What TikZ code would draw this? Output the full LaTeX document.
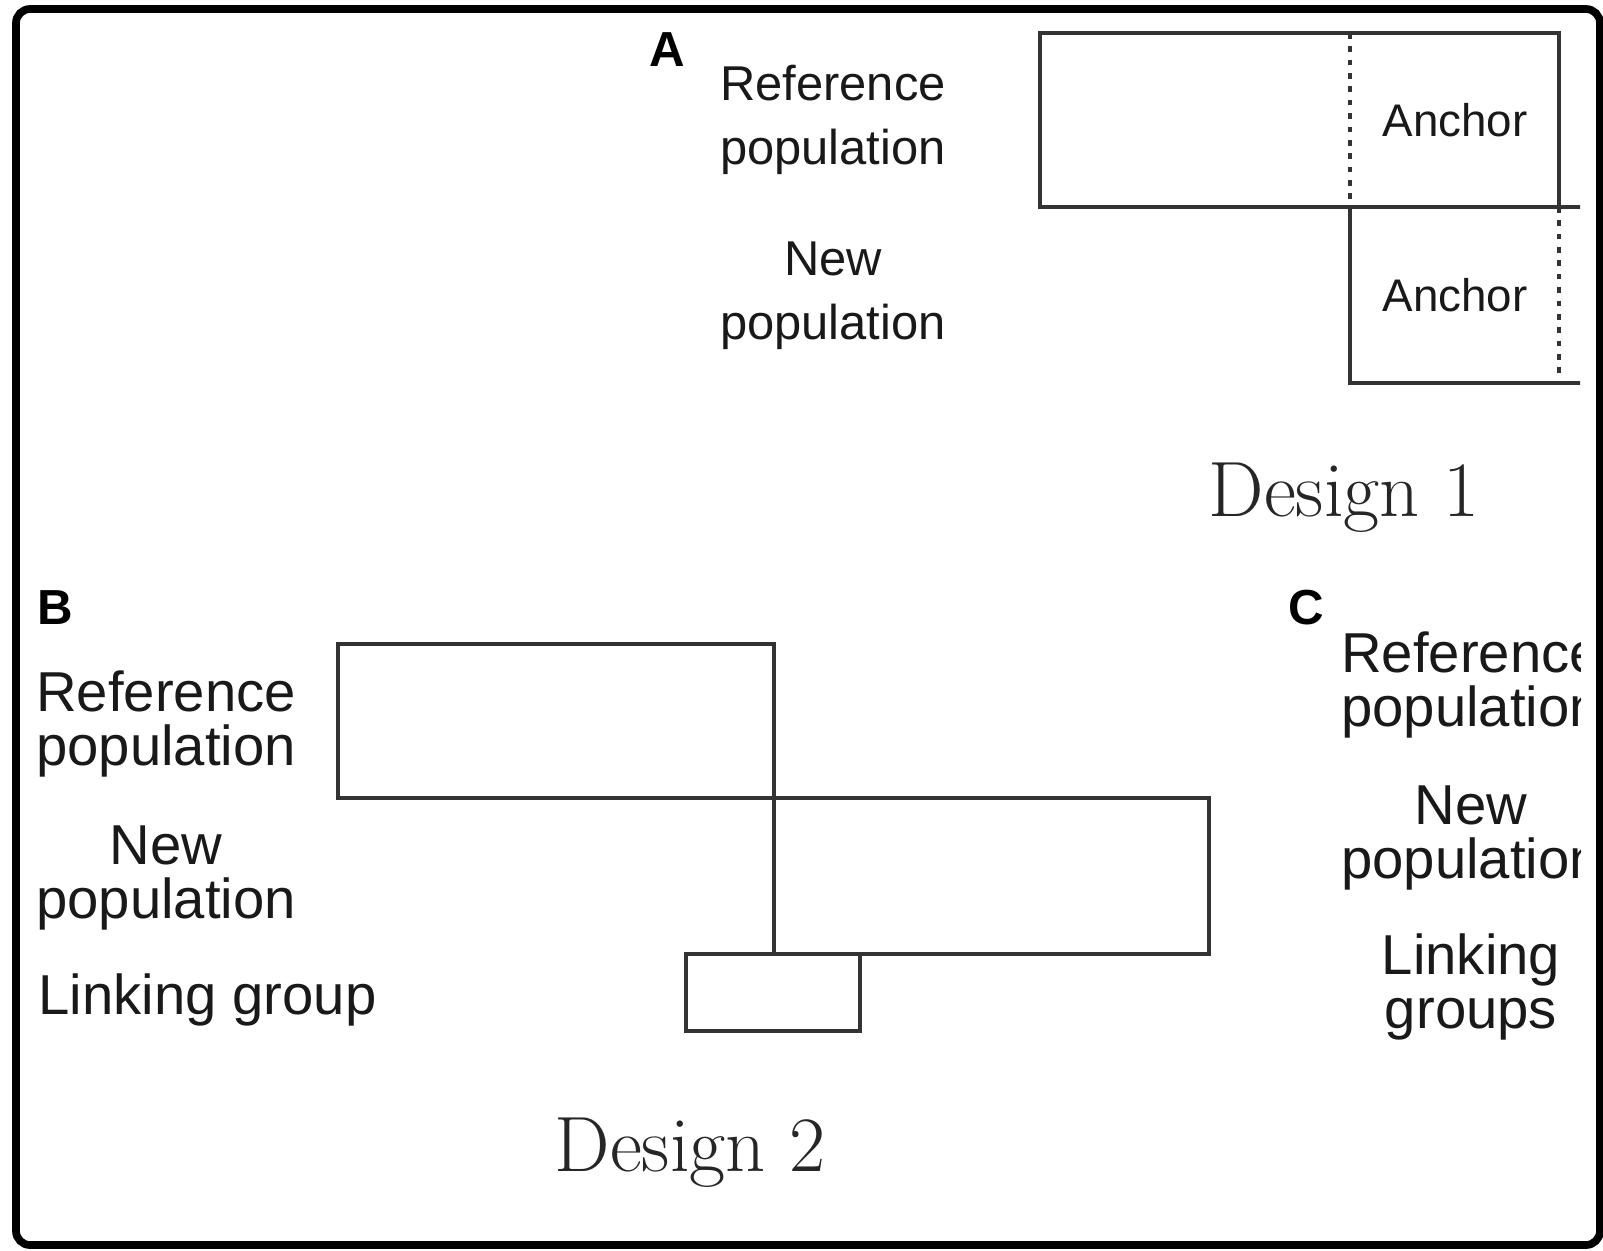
\documentclass[tikz,border=0pt]{standalone}
\usepackage{fontspec}
\setsansfont{Liberation Sans}

\begin{document}
\begin{tikzpicture}[x=0.01cm, y=-0.01cm, line join=miter,
    box/.style={draw=black!80, line width=1.1pt},
    anchorline/.style={draw=black!80, line width=1.1pt, dash pattern=on 1.6pt off 2.2pt},
    labA/.style={font=\sffamily\fontsize{13.9}{18.2}\selectfont, align=center, inner sep=0pt, text=black!90},
    labB/.style={font=\sffamily\fontsize{16}{15.4}\selectfont, align=center, inner sep=0pt, text=black!90},
    anchortext/.style={font=\sffamily\fontsize{13}{13}\selectfont, inner sep=0pt, text=black!90},
    panel/.style={font=\sffamily\bfseries\fontsize{14}{14}\selectfont, inner sep=0pt},
    design/.style={font=\fontsize{22.3}{24}\selectfont, inner sep=0pt, anchor=base, text=black!85}]

    \useasboundingbox (0,0) rectangle (1603,1250);

    % Corners of the boxes (pixels, y downwards)
    \coordinate (refA-nw) at (1040, 33);
    \coordinate (refA-se) at (1559, 207);
    \coordinate (newA-nw) at (1350, 207);
    \coordinate (newA-se) at (1900, 383);   % runs past the cut edge
    \coordinate (refB-nw) at (338, 644);
    \coordinate (refB-se) at (774, 798);
    \coordinate (newB-nw) at (774, 798);
    \coordinate (newB-se) at (1209, 954);
    \coordinate (linkB-nw) at (686, 954);
    \coordinate (linkB-se) at (860, 1031);

    \begin{scope}
    % the original figure is cut off at the right
    \clip (20, 12) rectangle (1580, 1240);

    % Design 1: reference population and new population sharing an anchor
    \draw[box] (refA-nw) rectangle (refA-se);
    \draw[box] (newA-nw) rectangle (newA-se);
    \draw[anchorline] (newA-nw |- refA-nw) -- (newA-nw);
    \draw[anchorline] (refA-se) -- (refA-se |- newA-se);

    \node[panel] (labelA) at (667, 50) {A};
    \node[labA] (refpopA) at (833, 120) {Reference\\population};
    \node[labA] (newpopA) at (833, 296) {New\\population};
    \node[anchortext] (anchorRef) at (1455, 120) {Anchor};
    \node[anchortext] (anchorNew) at (1455, 295) {Anchor};
    \node[design] (design1) at (1344, 516) {Design 1};

    % Design 2: linking group between the two populations
    \draw[box] (refB-nw) rectangle (refB-se);
    \draw[box] (newB-nw) rectangle (newB-se);
    \draw[box] (linkB-nw) rectangle (linkB-se);

    \node[panel] (labelB) at (55, 608) {B};
    \node[labB] (refpopB) at (166, 724) {Reference\\population};
    \node[labB] (newpopB) at (166, 878) {New\\population};
    \node[labB, anchor=west] (linkB) at (38, 1000) {Linking group};
    \node[design] (design2) at (690, 1171) {Design 2};

    % Panel C labels (cut off by the edge)
    \node[panel] (labelC) at (1306, 608) {C};
    \node[labB] (refpopC) at (1471, 685) {Reference\\population};
    \node[labB] (newpopC) at (1471, 838) {New\\population};
    \node[labB] (linkC) at (1471, 987) {Linking\\groups};
    \end{scope}

    % Outer frame
    \draw[line width=2.2pt, rounded corners=4pt] (16, 9) rectangle (1600, 1245);

\end{tikzpicture}
\end{document}
